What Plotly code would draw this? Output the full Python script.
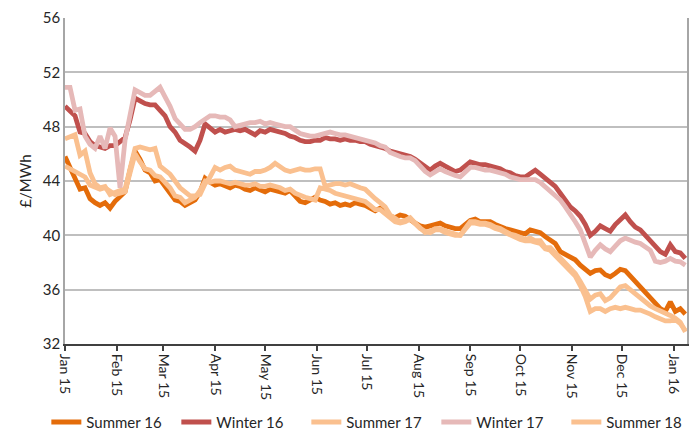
import pandas as pd
import plotly.graph_objects as go

# Observation calendar: every third day from 1 Jan 2015 to 8 Jan 2016
dates = pd.date_range("2015-01-01", "2016-01-08", freq="3D")

summer_16 = [
    45.8, 45.0, 44.0, 43.4, 43.5, 42.7, 42.4, 42.2, 42.4, 42.0,
    42.5, 42.8, 43.2, 44.8, 46.2, 45.6, 44.8, 44.6, 44.0, 44.1,
    43.6, 43.1, 42.6, 42.5, 42.2, 42.4, 42.6, 43.2, 44.2, 43.9,
    43.7, 43.8, 43.6, 43.5, 43.7, 43.6, 43.4, 43.3, 43.5, 43.3,
    43.2, 43.4, 43.3, 43.2, 43.1, 43.3, 42.9, 42.5, 42.4, 42.6,
    42.8, 42.6, 42.5, 42.3, 42.4, 42.2, 42.3, 42.2, 42.4, 42.3,
    42.2, 42.0, 41.8, 42.0, 41.7, 41.4, 41.3, 41.5, 41.4, 41.2,
    40.9, 40.7, 40.6, 40.7, 40.8, 40.9, 40.7, 40.6, 40.5, 40.5,
    40.8, 41.1, 41.2, 41.0, 41.0, 41.0, 40.8, 40.6, 40.5, 40.4,
    40.3, 40.2, 40.1, 40.4, 40.3, 40.2, 39.9, 39.7, 39.4, 38.8,
    38.6, 38.4, 38.2, 37.8, 37.5, 37.2, 37.4, 37.45, 37.1, 36.95,
    37.2, 37.5, 37.4, 37.0, 36.6, 36.2, 35.8, 35.3, 34.9, 34.6,
    34.4, 35.1, 34.4, 34.6, 34.2,
]

winter_16 = [
    49.5, 49.1, 48.8, 47.6, 47.5, 46.9, 46.6, 46.5, 46.4, 46.6,
    46.6, 46.9, 47.2, 48.5, 50.1, 49.9, 49.7, 49.6, 49.6, 49.2,
    48.8, 48.0, 47.6, 47.0, 46.8, 46.5, 46.2, 47.0, 48.2, 47.9,
    47.6, 47.8, 47.6, 47.7, 47.8, 47.7, 47.8, 47.6, 47.4, 47.7,
    47.6, 47.8, 47.7, 47.6, 47.5, 47.3, 47.2, 47.0, 46.9, 46.9,
    47.0, 47.0, 47.2, 47.1, 47.1, 47.0, 47.1, 47.0, 47.0, 46.9,
    46.9, 46.7, 46.6, 46.5, 46.4, 46.2, 46.1, 46.0, 45.9, 45.8,
    45.6, 45.3, 45.0, 44.8, 45.1, 45.3, 45.1, 44.9, 44.7, 44.8,
    45.1, 45.4, 45.3, 45.2, 45.2, 45.1, 45.0, 44.9, 44.7, 44.6,
    44.4, 44.3, 44.3, 44.6, 44.8, 44.5, 44.2, 44.0, 43.6, 43.1,
    42.6, 42.1, 41.8, 41.4, 40.8, 40.0, 40.3, 40.7, 40.5, 40.3,
    40.8, 41.2, 41.5, 41.0, 40.6, 40.4, 40.0, 39.6, 39.2, 38.8,
    38.6, 39.3, 38.8, 38.7, 38.3,
]

summer_17 = [
    47.1, 47.3, 47.4, 45.9, 46.2, 44.6, 43.8, 43.5, 43.6, 43.0,
    43.2, 43.3, 43.4, 45.0, 46.4, 46.5, 46.4, 46.3, 46.4, 45.1,
    44.8, 44.5, 44.0, 43.5, 43.2, 42.9, 42.9, 43.0, 43.8, 44.3,
    45.0, 44.8, 45.0, 45.1, 44.8, 44.7, 44.6, 44.5, 44.7, 44.7,
    44.8, 45.0, 45.3, 45.0, 44.8, 44.7, 44.8, 44.9, 44.8, 44.8,
    44.9, 44.9, 43.6, 43.7, 43.8, 43.8, 43.7, 43.8, 43.6, 43.5,
    43.4, 43.0, 42.7, 42.4, 42.1, 41.5, 41.2, 41.0, 41.1, 41.3,
    40.9, 40.6, 40.2, 40.3, 40.5, 40.5, 40.3, 40.2, 40.1, 40.0,
    40.5, 41.0, 41.0, 40.9, 40.9, 40.8, 40.6, 40.5, 40.3, 40.1,
    40.0, 39.8, 39.7, 39.8, 39.6, 39.6, 39.1, 39.1, 38.7, 38.3,
    38.0, 37.6, 37.2, 36.6, 36.0, 35.3, 35.6, 35.7, 35.2, 35.4,
    35.8, 36.2, 36.3, 36.0, 35.6, 35.3, 35.0, 34.8, 34.6, 34.4,
    34.3, 34.1, 33.9, 33.6, 32.9,
]

winter_17 = [
    50.9, 50.9, 49.2, 49.3, 47.3, 46.7, 46.4, 47.3, 46.4, 47.9,
    47.3, 43.5, 47.0, 49.0, 50.7, 50.5, 50.3, 50.3, 50.6, 50.9,
    50.2, 49.5, 48.6, 48.2, 47.8, 47.8, 48.0, 48.3, 48.6, 48.8,
    48.8, 48.7, 48.7, 48.5, 48.0, 48.1, 48.2, 48.3, 48.3, 48.4,
    48.2, 48.3, 48.2, 48.1, 48.0, 48.0, 47.7, 47.5, 47.4, 47.3,
    47.3, 47.4, 47.5, 47.6, 47.5, 47.4, 47.4, 47.3, 47.2, 47.1,
    47.0, 46.9, 46.8, 46.6, 46.5, 46.1, 45.9, 45.8, 45.7, 45.7,
    45.5, 45.1, 44.7, 44.45, 44.7, 44.9, 44.7, 44.5, 44.4, 44.3,
    44.6, 45.0, 45.0, 44.9, 44.8, 44.8, 44.7, 44.6, 44.5, 44.3,
    44.2, 44.1, 44.1, 44.1, 44.1, 43.9, 43.6, 43.2, 42.9, 42.6,
    42.1, 41.6, 41.0, 40.4, 39.4, 38.4, 38.9, 39.3, 39.0, 38.8,
    39.2, 39.6, 39.8, 39.6, 39.5, 39.4, 39.2, 38.9, 38.1, 38.0,
    38.1, 38.3, 38.1, 38.05, 37.8,
]

summer_18 = [
    45.1, 44.9, 44.7, 44.5, 44.3, 43.7, 43.5, 43.4, 43.5, 43.3,
    43.0, 43.1, 43.2, 44.6, 46.0, 45.4, 44.9, 44.8, 44.4, 44.3,
    43.9, 43.5, 42.9, 42.8, 42.4, 42.6, 42.8, 43.3, 44.0, 43.9,
    44.0, 44.0, 43.9, 43.8, 43.9, 43.8, 43.7, 43.7, 43.8, 43.6,
    43.6, 43.7, 43.6, 43.5, 43.3, 43.4, 43.1, 42.9, 42.8, 42.7,
    42.6, 43.5, 43.4, 43.3, 43.1, 43.0, 42.9, 42.8, 42.7, 42.6,
    42.5, 42.2, 41.9, 41.9, 41.6, 41.3, 41.0, 40.9, 41.0, 41.2,
    40.8, 40.5, 40.3, 40.2, 40.4, 40.4, 40.2, 40.1, 40.0, 40.0,
    40.4, 40.9, 40.9, 40.8, 40.8, 40.7, 40.5, 40.4, 40.2, 40.0,
    39.9, 39.7, 39.6, 39.6, 39.5, 39.4, 39.0, 38.9, 38.5, 38.1,
    37.8, 37.4, 37.0, 36.3, 35.5, 34.4, 34.6, 34.6, 34.4, 34.6,
    34.7, 34.6, 34.7, 34.6, 34.5, 34.5, 34.3, 34.2, 34.0, 33.8,
    33.7, 33.7, 33.8, 33.5, 33.0,
]

series = [
    ("Summer 16", summer_16, "#E46C0A"),
    ("Winter 16", winter_16, "#C0504D"),
    ("Summer 17", summer_17, "#FAC08F"),
    ("Winter 17", winter_17, "#E6B9B8"),
    ("Summer 18", summer_18, "#FAC08F"),
]

month_ticks = pd.date_range("2015-01-01", "2016-01-01", freq="MS")
month_labels = [d.strftime("%b %y") for d in month_ticks]

font_family = "Lato, 'Open Sans', sans-serif"
text_color = "#262626"

fig = go.Figure()
for name, vals, color in series:
    fig.add_trace(go.Scatter(
        x=dates, y=vals, name=name, mode="lines",
        line=dict(color=color, width=4.8),
    ))

fig.update_layout(
    width=697, height=443,
    margin=dict(l=65, r=10, t=18, b=99, autoexpand=False),
    paper_bgcolor="white", plot_bgcolor="white",
    font=dict(family=font_family, size=14, color=text_color),
    showlegend=True,
    legend=dict(
        orientation="h", x=-0.03, xanchor="left", y=-0.24, yanchor="middle",
        font=dict(size=15), itemwidth=30, tracegroupgap=0,
        entrywidth=85, entrywidthmode="pixels",
        bgcolor="rgba(0,0,0,0)",
    ),
)

fig.update_xaxes(
    range=["2015-01-01", "2016-01-09"],
    tickvals=month_ticks, ticktext=month_labels, tickangle=90,
    ticks="outside", ticklen=5, tickwidth=1.5, tickcolor="#404040",
    showline=True, linecolor="#404040", linewidth=2,
    showgrid=False, zeroline=False, automargin=False,
    tickfont=dict(size=14),
)

fig.update_yaxes(
    range=[32, 56], dtick=4, tick0=32,
    showgrid=True, gridcolor="#BFBFBF", gridwidth=1.5,
    showline=True, linecolor="#A6A6A6", linewidth=1.5, mirror=True,
    ticks="", zeroline=False, automargin=False,
    tickfont=dict(size=15),
    title=dict(text="£/MWh", font=dict(size=15), standoff=8),
)

fig.write_html("out.html")
